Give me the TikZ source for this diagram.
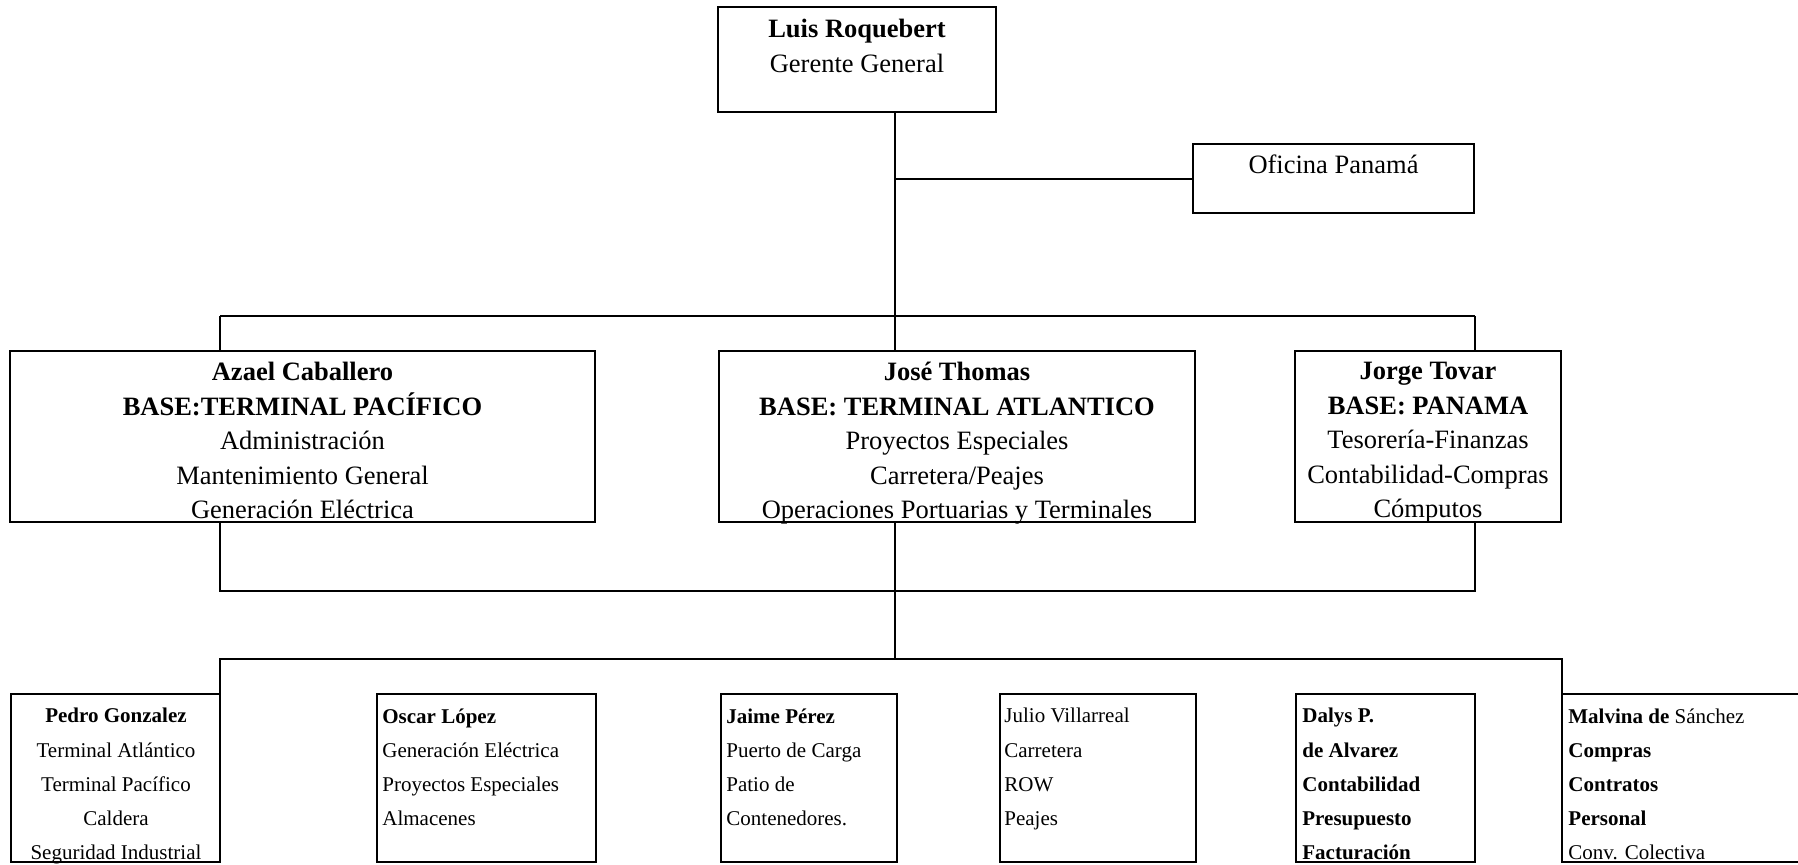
\documentclass[tikz,border=0pt]{standalone}
\usepackage{fontspec}
\setmainfont{Liberation Serif}
\begin{document}
\begin{tikzpicture}[x=0.5pt,y=-0.5pt,
  box/.style 2 args={draw=black, line width=1.1pt, inner sep=0pt, outer sep=0pt, rectangle, minimum width={#1*0.5pt}, minimum height={#2*0.5pt}},
  bigtxt/.style={inner sep=0pt, align=center, anchor=north, font=\fontsize{13.25}{17.25}\selectfont},
  smalltxt/.style={inner sep=0pt, align=left, anchor=north west, font=\fontsize{10.5}{17.1}\selectfont},
  conn/.style={draw=black, line width=1pt}]
\useasboundingbox (0,0) rectangle (1798,864);
\fill[white] (0,0) rectangle (1798,864);
% boxes
\node[box={278}{105}] (top) at (857,59.5) {};
\node[box={281}{69}] (ofi) at (1333.5,178.5) {};
\node[box={585}{171}] (azael) at (302.5,436.5) {};
\node[box={476}{171}] (jose) at (957,436.5) {};
\node[box={266}{171}] (jorge) at (1428,436.5) {};
\node[box={209}{168}] (pedro) at (115.5,778) {};
\node[box={219}{168}] (oscar) at (486.5,778) {};
\node[box={176}{168}] (jaime) at (809,778) {};
\node[box={196}{168}] (julio) at (1098,778) {};
\node[box={179}{168}] (dalys) at (1385.5,778) {};
\node[box={246}{168}] (malvina) at (1685,778) {};
% texts
\node[bigtxt, font=\fontsize{13.25}{17.5}\selectfont] (topt) at (857,19) {\textbf{Luis Roquebert}\\Gerente General};
\node[bigtxt] (ofit) at (1333.5,154) {Oficina Panamá};
\node[bigtxt] (azaelt) at (302.5,362) {\textbf{Azael Caballero}\\\textbf{BASE:TERMINAL PACÍFICO}\\Administración\\Mantenimiento General\\Generación Eléctrica};
\node[bigtxt] (joset) at (957,362) {\textbf{José Thomas}\\\textbf{BASE: TERMINAL ATLANTICO}\\Proyectos Especiales\\Carretera/Peajes\\Operaciones Portuarias y Terminales};
\node[bigtxt] (jorget) at (1428,362) {\textbf{Jorge Tovar}\\\textbf{BASE: PANAMA}\\Tesorería-Finanzas\\Contabilidad-Compras\\Cómputos};
\node[smalltxt, align=center, anchor=north] (pedrot) at (116,708) {\textbf{Pedro Gonzalez}\\Terminal Atlántico\\Terminal Pacífico\\Caldera\\Seguridad Industrial};
\node[smalltxt] (oscart) at (382,708) {\textbf{Oscar López}\\Generación Eléctrica\\Proyectos Especiales\\Almacenes};
\node[smalltxt] (jaimet) at (726,708) {\textbf{Jaime Pérez}\\Puerto de Carga\\Patio de\\Contenedores.};
\node[smalltxt] (juliot) at (1004,708) {Julio Villarreal\\Carretera\\ROW\\Peajes};
\node[smalltxt] (dalyst) at (1302,708) {\textbf{Dalys P.}\\\textbf{de Alvarez}\\\textbf{Contabilidad}\\\textbf{Presupuesto}\\\textbf{Facturación}};
\node[smalltxt] (malvinat) at (1568,708) {\textbf{Malvina de} Sánchez\\\textbf{Compras}\\\textbf{Contratos}\\\textbf{Personal}\\Conv. Colectiva};
% connector coordinates
\coordinate (b1) at (895,316);
\coordinate (busL) at (220,316);
\coordinate (busR) at (1475,316);
\coordinate (lbL) at (220,591);
\coordinate (lbM) at (895,591);
\coordinate (lbR) at (1475,591);
\coordinate (bbL) at (220,659);
\coordinate (bbM) at (895,659);
\coordinate (bbR) at (1562,659);
% connectors
\draw[conn] (top.south -| b1) -- (b1);
\draw[conn] (ofi.west) -- (ofi.west -| b1);
\draw[conn] (busL) -- (busR);
\draw[conn] (busL) -- (busL |- azael.north);
\draw[conn] (b1) -- (b1 |- jose.north);
\draw[conn] (busR) -- (busR |- jorge.north);
\draw[conn] (azael.south -| lbL) -- (lbL) -- (lbR) -- (jorge.south -| lbR);
\draw[conn] (jose.south -| lbM) -- (bbM);
\draw[conn] (pedro.north east) -- (bbL) -- (bbR) -- (malvina.north west);
\end{tikzpicture}
\end{document}
